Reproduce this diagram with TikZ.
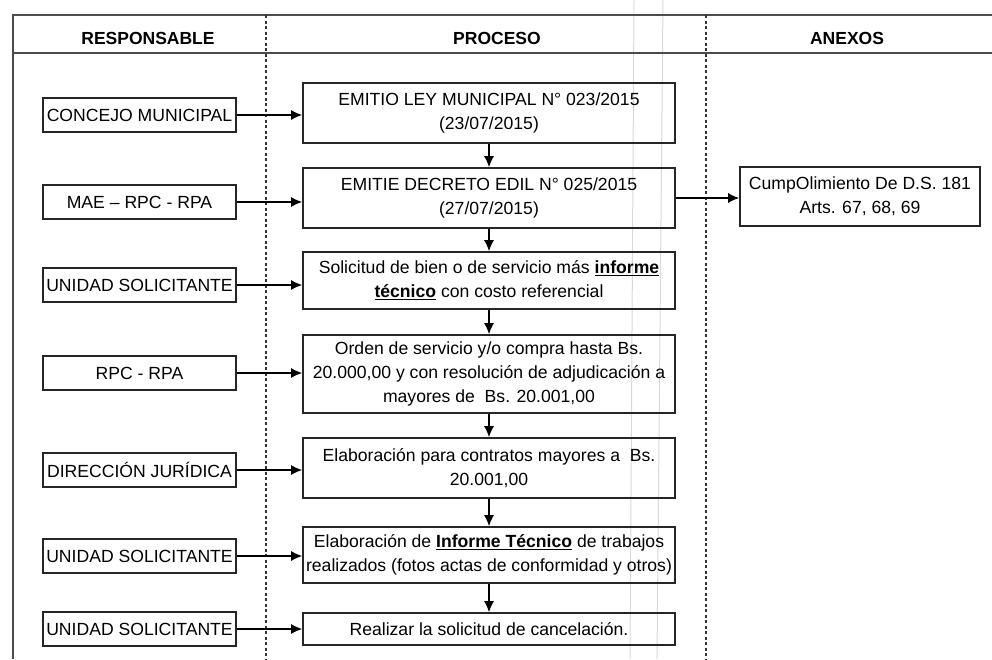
\documentclass[tikz,border=0pt]{standalone}
\usepackage{fontspec}
\setmainfont{Liberation Sans}
\usetikzlibrary{arrows.meta}
\begin{document}
\begin{tikzpicture}[x=1pt,y=-1pt,
  box/.style={draw=black!85, line width=1.6pt, inner sep=2pt, align=center, font=\fontsize{17.6}{24}\selectfont},
  lbox/.style={box, minimum width=193pt, minimum height=34pt},
  mbox/.style={box, minimum width=372pt},
  arr/.style={line width=1.4pt, -{Latex[length=11pt,width=10pt]}},
  frame/.style={draw=black!70, line width=1.6pt},
  sep/.style={draw=black!80, line width=1.2pt, dash pattern=on 3pt off 2.5pt},
  scan/.style={draw=gray!30, line width=1pt},
  head/.style={font=\fontsize{17.5}{20}\selectfont\bfseries}]
\useasboundingbox (0,0) rectangle (992,659);
% faint scan lines
\draw[scan] (634,0) -- (630,659);
\draw[scan] (663,0) -- (657,659);
% frame
\draw[frame] (992,15) -- (13,15) -- (13,659);
\draw[frame] (13,53) -- (992,53);
\draw[sep] (266,15) -- (266,659);
\draw[sep] (706,15) -- (706,659);
% headers
\node[head] (h1) at (148,38) {RESPONSABLE};
\node[head] (h2) at (497,38) {PROCESO};
\node[head] (h3) at (847,38) {ANEXOS};
% left boxes
\node[lbox] (l1) at (139.5,115) {CONCEJO MUNICIPAL};
\node[lbox] (l2) at (139.5,202) {MAE -- RPC - RPA};
\node[lbox] (l3) at (139.5,285) {UNIDAD SOLICITANTE};
\node[lbox] (l4) at (139.5,373) {RPC - RPA};
\node[lbox] (l5) at (139.5,470) {DIRECCIÓN JURÍDICA};
\node[lbox] (l6) at (139.5,556) {UNIDAD SOLICITANTE};
\node[lbox] (l7) at (139.5,629) {UNIDAD SOLICITANTE};
% middle boxes
\node[mbox, minimum height=60pt] (m1) at (489,113) {EMITIO LEY MUNICIPAL N° 023/2015\\(23/07/2015)};
\node[mbox, minimum height=60pt] (m2) at (489,198) {EMITIE DECRETO EDIL N° 025/2015\\(27/07/2015)};
\node[mbox, minimum height=57pt] (m3) at (489,280.5) {Solicitud de bien o de servicio más \underline{\textbf{informe}}\\\underline{\textbf{técnico}} con costo referencial};
\node[mbox, minimum height=78pt] (m4) at (489,374) {Orden de servicio y/o compra hasta Bs.\\20.000,00 y con resolución de adjudicación a\\mayores de~ Bs. 20.001,00};
\node[mbox, minimum height=60pt] (m5) at (489,468) {Elaboración para contratos mayores a~ Bs.\\20.001,00};
\node[mbox, minimum height=56pt] (m6) at (489,555) {Elaboración de \underline{\textbf{Informe Técnico}} de trabajos\\realizados (fotos actas de conformidad y otros)};
\node[mbox, minimum height=32pt] (m7) at (489,629) {Realizar la solicitud de cancelación.};
% annex
\node[box, minimum width=240pt, minimum height=59pt] (a1) at (860,196.5) {CumpOlimiento De D.S. 181\\Arts. 67, 68, 69};
% arrows
\foreach \i in {1,...,7} {
  \draw[arr] (l\i.east) -- (l\i.east -| m\i.west);
}
\draw[arr] (m1) -- (m2);
\draw[arr] (m2) -- (m3);
\draw[arr] (m3) -- (m4);
\draw[arr] (m4) -- (m5);
\draw[arr] (m5) -- (m6);
\draw[arr] (m6) -- (m7);
\draw[arr] (m2.east) -- (m2.east -| a1.west);
\end{tikzpicture}
\end{document}
